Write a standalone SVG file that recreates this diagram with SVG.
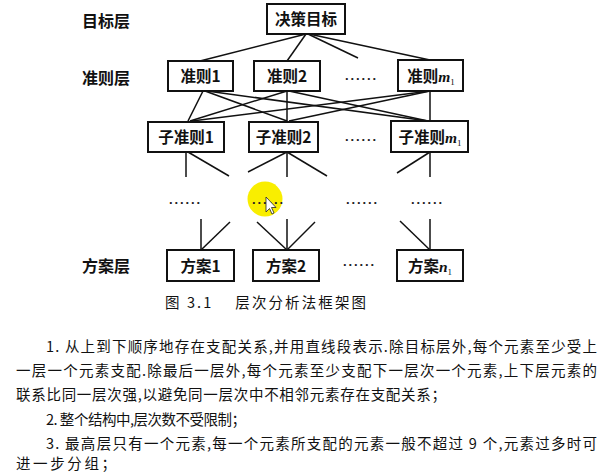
<svg xmlns="http://www.w3.org/2000/svg" width="612" height="474" viewBox="0 0 612 474">
<style>
.box{fill:#fff;stroke:#111;stroke-width:2}
.bt{font-family:"Noto Sans CJK SC","Noto Sans CJK JP",sans-serif;font-size:15.5px;font-weight:700;fill:#111;text-anchor:middle}
.lab{font-family:"Noto Sans CJK SC","Noto Sans CJK JP",sans-serif;font-size:16px;font-weight:700;fill:#111}
.it{font-family:"Liberation Serif",serif;font-style:italic;font-weight:700}
.sub{font-family:"Liberation Serif",serif;font-size:9px;font-weight:400}
.dots{font-family:"Liberation Sans",sans-serif;font-size:13px;font-weight:700;fill:#222}
.cap{font-family:"Noto Sans CJK SC","Noto Sans CJK JP",sans-serif;font-size:14.5px;fill:#111}
.body{font-family:"Noto Sans CJK SC","Noto Sans CJK JP",sans-serif;font-size:14.5px;fill:#111}
#connectors line{stroke:#111;stroke-width:1.5}
</style>
<rect width="612" height="474" fill="#fff"/>

<g id="layer-labels">
<text class="lab" x="82" y="27">目标层</text>
<text class="lab" x="82" y="84">准则层</text>
<text class="lab" x="82" y="272">方案层</text>
</g>

<g id="connectors">
<line x1="306" y1="34" x2="200" y2="61"/>
<line x1="306" y1="34" x2="287" y2="61"/>
<line x1="308" y1="34" x2="358" y2="58"/>
<line x1="309" y1="34" x2="430" y2="60"/>

<line x1="203" y1="91" x2="188" y2="121"/>
<line x1="205" y1="91" x2="287" y2="121"/>
<line x1="207" y1="91" x2="428" y2="121"/>
<line x1="287" y1="91" x2="190" y2="121"/>
<line x1="287" y1="91" x2="287" y2="121"/>
<line x1="289" y1="91" x2="428" y2="121"/>
<line x1="430" y1="91" x2="192" y2="121"/>
<line x1="430" y1="91" x2="289" y2="121"/>
<line x1="430" y1="91" x2="430" y2="121"/>

<line x1="186" y1="152" x2="186" y2="177"/>
<line x1="188" y1="152" x2="229" y2="176"/>
<line x1="287" y1="152" x2="248" y2="172"/>
<line x1="287" y1="152" x2="287" y2="177"/>
<line x1="287" y1="152" x2="327" y2="176"/>
<line x1="430" y1="152" x2="397" y2="173"/>
<line x1="430" y1="152" x2="430" y2="177"/>

<line x1="201" y1="219" x2="201" y2="250"/>
<line x1="230" y1="222" x2="201" y2="250"/>
<line x1="257" y1="222" x2="287" y2="250"/>
<line x1="287" y1="219" x2="287" y2="250"/>
<line x1="315" y1="222" x2="287" y2="250"/>
<line x1="400" y1="221" x2="430" y2="250"/>
<line x1="430" y1="219" x2="430" y2="250"/>
</g>

<g id="goal"><rect class="box" x="267" y="4" width="78" height="30"/><text class="bt" x="306" y="25" font-size="16">决策目标</text></g>

<g id="c1"><rect class="box" x="168" y="61" width="65" height="30"/><text class="bt" x="200.5" y="82">准则1</text></g>
<g id="c2"><rect class="box" x="254" y="61" width="66" height="30"/><text class="bt" x="287" y="82">准则2</text></g>
<g id="c-dots"><text class="dots" x="345" y="80" textLength="31" lengthAdjust="spacing">......</text></g>
<g id="cm"><rect class="box" x="398" y="60" width="65" height="31"/><text class="bt" x="431" y="82">准则<tspan class="it">m</tspan><tspan class="sub" dy="3">1</tspan></text></g>

<g id="s1"><rect class="box" x="148" y="122" width="76" height="30"/><text class="bt" x="186" y="143">子准则1</text></g>
<g id="s2"><rect class="box" x="249" y="122" width="69" height="30"/><text class="bt" x="283.5" y="143">子准则2</text></g>
<g id="s-dots"><text class="dots" x="345" y="141" textLength="31" lengthAdjust="spacing">......</text></g>
<g id="sm"><rect class="box" x="391" y="121" width="77" height="31"/><text class="bt" x="430" y="143">子准则<tspan class="it">m</tspan><tspan class="sub" dy="3">1</tspan></text></g>

<g id="mid-dots">
<circle cx="265" cy="199" r="17.5" fill="#f9ee00"/>
<text class="dots" x="169" y="204" textLength="31" lengthAdjust="spacing">......</text>
<text class="dots" x="252" y="204" textLength="31" lengthAdjust="spacing" fill="#1c1c80">......</text>
<text class="dots" x="346" y="204" textLength="31" lengthAdjust="spacing">......</text>
<text class="dots" x="411" y="204" textLength="31" lengthAdjust="spacing">......</text>
<path d="M266,197 L266,212 L269.5,208.5 L272,214 L274,213 L271.5,207.5 L276,207.5 Z" fill="#fff" stroke="#222" stroke-width="0.8"/>
</g>

<g id="a1"><rect class="box" x="167" y="250" width="67" height="31"/><text class="bt" x="200.5" y="271.5">方案1</text></g>
<g id="a2"><rect class="box" x="253" y="250" width="66" height="31"/><text class="bt" x="286" y="271.5">方案2</text></g>
<g id="a-dots"><text class="dots" x="343" y="266" textLength="31" lengthAdjust="spacing">......</text></g>
<g id="an"><rect class="box" x="397" y="250" width="66" height="31"/><text class="bt" x="430" y="271.5">方案<tspan class="it">n</tspan><tspan class="sub" dy="3">1</tspan></text></g>

<g id="caption"><text class="cap" x="165" y="308" textLength="201" lengthAdjust="spacing">图 3.1　 层次分析法框架图</text></g>

<g id="body">
<text class="body" x="46" y="352" textLength="551" lengthAdjust="spacing">1. 从上到下顺序地存在支配关系,并用直线段表示.除目标层外,每个元素至少受上</text>
<text class="body" x="16" y="376" textLength="581" lengthAdjust="spacing">一层一个元素支配.除最后一层外,每个元素至少支配下一层次一个元素,上下层元素的</text>
<text class="body" x="16" y="400" textLength="430" lengthAdjust="spacing">联系比同一层次强,以避免同一层次中不相邻元素存在支配关系；</text>
<text class="body" x="46" y="425" textLength="200" lengthAdjust="spacing">2. 整个结构中,层次数不受限制；</text>
<text class="body" x="46" y="449" textLength="551" lengthAdjust="spacing">3. 最高层只有一个元素,每一个元素所支配的元素一般不超过 9 个,元素过多时可</text>
<text class="body" x="16" y="469" textLength="100" lengthAdjust="spacing">进一步分组；</text>
</g>
</svg>
